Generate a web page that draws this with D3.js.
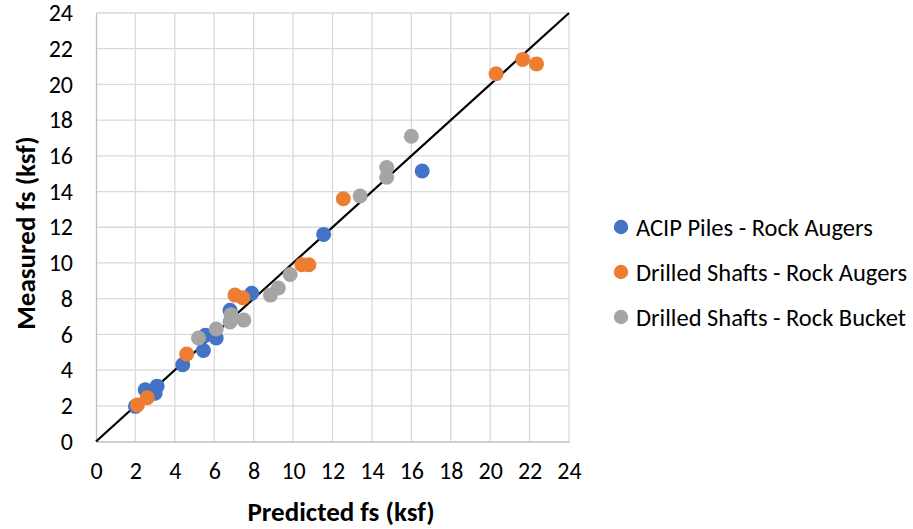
<!DOCTYPE html>
<html>
<head>
<meta charset="utf-8">
<script src="https://cdn.jsdelivr.net/npm/d3@7"></script>
<style>
  html, body { margin: 0; padding: 0; background: #fff; }
  svg { display: block; font-family: Carlito, Calibri, "Open Sans", sans-serif; }
</style>
</head>
<body>
<svg id="chart" width="913" height="529"></svg>
<script>
// Predicted vs measured unit side resistance (ksf)
const acipPredicted = [2.0, 2.5, 3.1, 3.0, 4.4, 5.45, 5.55, 6.1, 6.8, 7.9, 11.55, 16.55];
const acipMeasured  = [1.97, 2.9, 3.1, 2.7, 4.3, 5.1, 5.95, 5.8, 7.35, 8.3, 11.6, 15.15];

const augerPredicted = [2.1, 2.6, 4.6, 7.05, 7.45, 10.45, 10.8, 12.55, 20.3, 21.65, 22.35];
const augerMeasured  = [2.05, 2.45, 4.9, 8.2, 8.05, 9.9, 9.9, 13.6, 20.6, 21.4, 21.15];

const bucketPredicted = [5.2, 6.1, 6.85, 6.8, 7.5, 8.85, 9.25, 9.85, 13.4, 14.75, 14.75, 16.0];
const bucketMeasured  = [5.8, 6.3, 7.1, 6.7, 6.8, 8.2, 8.6, 9.35, 13.75, 15.35, 14.8, 17.1];

const tickValues = [0, 2, 4, 6, 8, 10, 12, 14, 16, 18, 20, 22, 24];

const seriesNames  = ["ACIP Piles - Rock Augers", "Drilled Shafts - Rock Augers", "Drilled Shafts - Rock Bucket"];
const seriesColors = ["#4472c4", "#ed7d31", "#a5a5a5"];

const series = [
  { name: seriesNames[0], color: seriesColors[0], xs: acipPredicted,   ys: acipMeasured },
  { name: seriesNames[1], color: seriesColors[1], xs: augerPredicted,  ys: augerMeasured },
  { name: seriesNames[2], color: seriesColors[2], xs: bucketPredicted, ys: bucketMeasured }
];

const FONT = "Carlito, Calibri, 'Open Sans', sans-serif";
const svg = d3.select("#chart");
const plot = { left: 96, right: 569, top: 13, bottom: 441.5 };

const x = d3.scaleLinear().domain([0, 24]).range([plot.left, plot.right]);
const y = d3.scaleLinear().domain([0, 24]).range([plot.bottom, plot.top]);

// gridlines
const grid = svg.append("g");
grid.selectAll("line.v").data(tickValues.slice(1)).join("line")
  .attr("x1", d => x(d)).attr("x2", d => x(d))
  .attr("y1", plot.top).attr("y2", plot.bottom)
  .attr("stroke", "#d9d9d9").attr("stroke-width", 1.3);
grid.selectAll("line.h").data(tickValues.slice(1)).join("line")
  .attr("x1", plot.left).attr("x2", plot.right)
  .attr("y1", d => y(d)).attr("y2", d => y(d))
  .attr("stroke", "#d9d9d9").attr("stroke-width", 1.3);

// axes
const xAxis = svg.append("g").attr("transform", `translate(0,${plot.bottom})`)
  .call(d3.axisBottom(x).tickValues(tickValues).tickSize(0).tickPadding(20));
const yAxis = svg.append("g").attr("transform", `translate(${plot.left},0)`)
  .call(d3.axisLeft(y).tickValues(tickValues).tickSize(0).tickPadding(23));
[xAxis, yAxis].forEach(g => {
  g.select(".domain").attr("stroke", "#bfbfbf").attr("stroke-width", 1.3);
  g.selectAll("text").attr("font-size", 24).attr("fill", "#000").attr("font-family", FONT);
});

// 1:1 reference line
svg.append("line")
  .attr("x1", x(0)).attr("y1", y(0))
  .attr("x2", x(24)).attr("y2", y(24))
  .attr("stroke", "#000").attr("stroke-width", 2.2);

// data points
series.forEach(s => {
  svg.append("g").selectAll("circle")
    .data(s.xs.map((v, i) => [v, s.ys[i]]))
    .join("circle")
    .attr("cx", d => x(d[0])).attr("cy", d => y(d[1]))
    .attr("r", 7.5).attr("fill", s.color);
});

// axis titles
svg.append("text")
  .attr("x", 341).attr("y", 521)
  .attr("text-anchor", "middle").attr("font-size", 27).attr("font-weight", "bold")
  .attr("font-family", FONT)
  .text("Predicted fs (ksf)");
svg.append("text")
  .attr("transform", `translate(35,233) rotate(-90)`)
  .attr("text-anchor", "middle").attr("font-size", 27).attr("font-weight", "bold")
  .attr("font-family", FONT)
  .text("Measured fs (ksf)");

// legend
const legend = svg.append("g");
series.forEach((s, i) => {
  const ly = 227 + i * 45;
  legend.append("circle").attr("cx", 621).attr("cy", ly).attr("r", 7.2).attr("fill", s.color);
  legend.append("text").attr("x", 636).attr("y", ly).attr("dy", "0.35em")
    .attr("font-size", 24.5).attr("fill", "#000").attr("font-family", FONT).text(s.name);
});
</script>
</body>
</html>
